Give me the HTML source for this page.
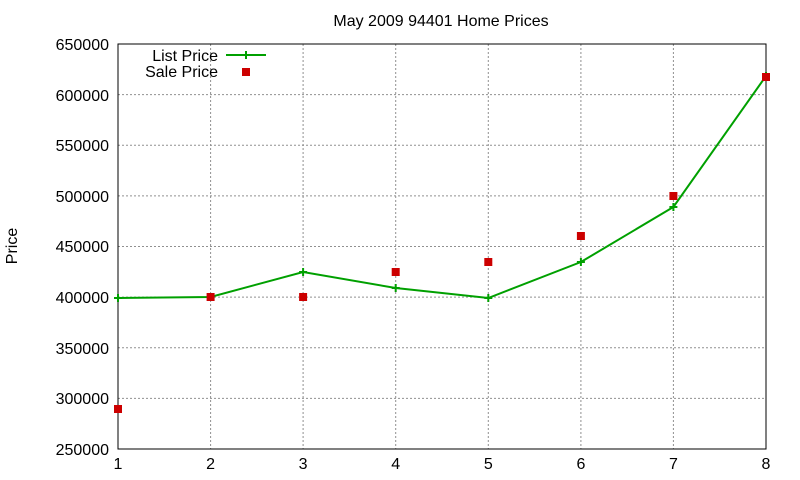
<!DOCTYPE html>
<html><head><style>body{margin:0;background:#fff}svg{display:block}text{font-family:"Liberation Sans",sans-serif;font-size:16px;fill:#000}</style></head>
<body>
<svg width="800" height="480" xmlns="http://www.w3.org/2000/svg">
<rect width="800" height="480" fill="#fff"/>
<g stroke="#909090" stroke-width="1" stroke-dasharray="2,2">
<line x1="118" y1="398.4" x2="766" y2="398.4"/>
<line x1="118" y1="347.8" x2="766" y2="347.8"/>
<line x1="118" y1="297.1" x2="766" y2="297.1"/>
<line x1="118" y1="246.5" x2="766" y2="246.5"/>
<line x1="118" y1="195.9" x2="766" y2="195.9"/>
<line x1="118" y1="145.3" x2="766" y2="145.3"/>
<line x1="118" y1="94.6" x2="766" y2="94.6"/>
<line x1="210.6" y1="44" x2="210.6" y2="449"/>
<line x1="303.1" y1="44" x2="303.1" y2="449"/>
<line x1="395.7" y1="44" x2="395.7" y2="449"/>
<line x1="488.3" y1="44" x2="488.3" y2="449"/>
<line x1="580.9" y1="44" x2="580.9" y2="449"/>
<line x1="673.4" y1="44" x2="673.4" y2="449"/>
</g>
<rect x="118" y="44" width="648" height="405" fill="none" stroke="#000" stroke-width="1"/>
<g text-anchor="end">
<text x="109" y="455">250000</text>
<text x="109" y="404">300000</text>
<text x="109" y="354">350000</text>
<text x="109" y="303">400000</text>
<text x="109" y="252">450000</text>
<text x="109" y="202">500000</text>
<text x="109" y="151">550000</text>
<text x="109" y="101">600000</text>
<text x="109" y="50">650000</text>
</g>
<g text-anchor="middle">
<text x="118" y="469">1</text>
<text x="210.6" y="469">2</text>
<text x="303.1" y="469">3</text>
<text x="395.7" y="469">4</text>
<text x="488.3" y="469">5</text>
<text x="580.9" y="469">6</text>
<text x="673.4" y="469">7</text>
<text x="766" y="469">8</text>
<text x="441" y="26">May 2009 94401 Home Prices</text>
<text transform="translate(17,246) rotate(-90)">Price</text>
</g>
<g text-anchor="end">
<text x="218" y="61">List Price</text>
<text x="218" y="77">Sale Price</text>
</g>
<g stroke="#00a000" stroke-width="2" fill="none">
<line x1="226" y1="55" x2="266" y2="55"/>
<polyline points="118,298 210.6,297 303.1,272 395.7,288 488.3,298 580.9,262 673.4,207 766,76"/>
<path d="M242,55h8M246,51v8 M114,298h8M118,294v8 M206.6,297h8M210.6,293v8 M299.1,272h8M303.1,268v8 M391.7,288h8M395.7,284v8 M484.3,298h8M488.3,294v8 M576.9,262h8M580.9,258v8 M669.4,207h8M673.4,203v8 M762,76h8M766,72v8"/>
</g>
<g fill="#cc0000">
<rect x="242" y="68" width="8" height="8"/>
<rect x="114" y="405" width="8" height="8"/>
<rect x="206.6" y="293" width="8" height="8"/>
<rect x="299.1" y="293" width="8" height="8"/>
<rect x="391.7" y="268" width="8" height="8"/>
<rect x="484.3" y="258" width="8" height="8"/>
<rect x="576.9" y="232" width="8" height="8"/>
<rect x="669.4" y="192" width="8" height="8"/>
<rect x="762" y="73" width="8" height="8"/>
</g>
</svg>
</body></html>
